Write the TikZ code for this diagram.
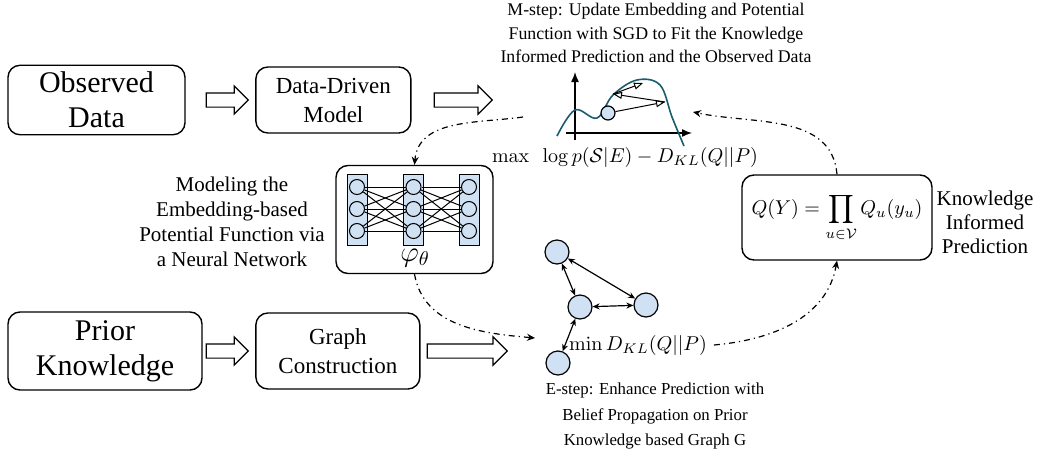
\documentclass[tikz,border=0pt]{standalone}
\usepackage[no-math]{fontspec}
\setmainfont{Liberation Serif}
\usetikzlibrary{positioning,shapes.arrows,arrows.meta}

\definecolor{cellblue}{RGB}{207,225,242}
\definecolor{curveteal}{RGB}{26,92,110}

\tikzset{
  box/.style={draw, line width=0.7pt, rounded corners=6pt, align=center},
  bigbox/.style={box, font=\fontsize{15}{17.5}\selectfont},
  midbox/.style={box, font=\fontsize{11.5}{14.5}\selectfont},
  blockarrow/.style={draw, line width=0.6pt, single arrow, single arrow head extend=3.5pt,
    single arrow head indent=0pt, inner xsep=0pt, inner ysep=3.25pt},
  note/.style={align=center, font=\fontsize{10.5}{12}\selectfont},
  layer/.style={draw, fill=cellblue, line width=0.5pt},
  neuron/.style={circle, draw, fill=cellblue, line width=0.5pt, minimum size=7.5pt, inner sep=0pt},
  gnode/.style={circle, draw, fill=cellblue, line width=0.6pt, minimum size=12pt, inner sep=0pt},
  gedge/.style={{Stealth[length=3.5pt,width=3pt]}-{Stealth[length=3.5pt,width=3pt]}, line width=0.6pt},
  flow/.style={line width=0.6pt, dash pattern=on 3pt off 2pt on 0.6pt off 2pt,
    -{Stealth[length=4pt,width=3.5pt]}},
  climb/.style={line width=0.5pt, -{Triangle[open,length=4.5pt,width=3.5pt]}},
}

\begin{document}
\begin{tikzpicture}[x=0.5pt, y=-0.5pt]
\useasboundingbox (0,0) rectangle (1041,456);

% input chains
\node[bigbox, minimum width=88.5pt, minimum height=33pt] (obs) at (96.5,100) {Observed\\Data};
\node[blockarrow, minimum height=21pt, right=10pt of obs] (a1) {};
\node[midbox, minimum width=77.5pt, minimum height=33pt, right=3pt of a1] (ddm) {Data-Driven\\Model};
\node[blockarrow, minimum height=29pt, right=11pt of ddm] (a2) {};

\node[bigbox, minimum width=97pt, minimum height=39pt] (prior) at (105,351) {Prior\\Knowledge};
\node[blockarrow, minimum height=21pt, right=1.5pt of prior] (a3) {};
\node[midbox, minimum width=82pt, minimum height=38pt, right=3pt of a3] (gc) {Graph\\Construction};
\node[blockarrow, minimum height=40pt, right=3pt of gc] (a4) {};

% M-step
\node[note, font=\fontsize{8.9}{11.6}\selectfont] (mstep) at (656,33)
  {M-step: Update Embedding and Potential\\Function with SGD to Fit the Knowledge\\Informed Prediction and the Observed Data};
\draw[line width=0.7pt, -{Latex[length=5pt,width=4pt]}] (575,140) -- (575,72);
\draw[line width=0.7pt, -{Latex[length=5pt,width=4pt]}] (566,133) -- (692,133);
\draw[curveteal, line width=0.8pt] plot[smooth, tension=0.6] coordinates
  {(557,136) (575,110) (597,118) (613,95) (637,80) (660,85) (672,117) (684,146)};
\node[gnode, minimum size=7pt] (ball) at (608,113) {};
\coordinate (p1) at (665,102);
\coordinate (p2) at (613,94);
\coordinate (p3) at (643,83);
\draw[climb] (ball) -- (p1);
\draw[climb] (p1) -- (p2);
\draw[climb] (p2) -- (p3);
\node (maxf) at (625,157) {$\max\ \ \log p(\mathcal{S}|E)-D_{KL}(Q||P)$};

% potential function network
\node[box, minimum width=78.5pt, minimum height=54pt] (nn) at (414.5,219.5) {};
\foreach \c/\x in {1/357,2/413.5,3/469}{
  \draw[layer] (\x-10,174) rectangle (\x+10,245);
  \foreach \r/\y in {1/187,2/209,3/231}
    \node[neuron] (n\c\r) at (\x,\y) {};
}
\foreach \c/\d in {1/2,2/3}
  \foreach \r in {1,2,3}
    \foreach \s in {1,2,3}
      \draw[line width=0.5pt] (n\c\r) -- (n\d\s);
\node[font=\Large] (phi) at (415,258) {$\varphi_\theta$};
\node[note, font=\fontsize{10.5}{12.5}\selectfont] (nnnote) at (232,222)
  {Modeling the\\Embedding-based\\Potential Function via\\a Neural Network};

% E-step graph
\node[gnode] (g1) at (557,252) {};
\node[gnode] (g2) at (580,307) {};
\node[gnode] (g3) at (646,305) {};
\node[gnode] (g4) at (558,363) {};
\draw[gedge] (g1) -- (g2);
\draw[gedge] (g1) -- (g3);
\draw[gedge] (g2) -- (g3);
\draw[gedge] (g2) -- (g4);
\node (minf) at (638,345) {$\min D_{KL}(Q||P)$};
\node[note, font=\fontsize{8.4}{12.8}\selectfont] (estep) at (655,416)
  {E-step: Enhance Prediction with\\Belief Propagation on Prior\\Knowledge based Graph G};

% knowledge informed prediction
\node[box, minimum width=95pt, minimum height=42.5pt] (qbox) at (837,217.5)
  {$\displaystyle Q(Y)=\prod_{u\in\mathcal{V}}Q_u(y_u)$};
\node[note] (kip) at (985,222) {Knowledge\\Informed\\Prediction};

% EM loop
\coordinate (mout) at (523,117);
\coordinate (gin) at (535,338);
\coordinate (min) at (693,112);
\draw[flow] (mout) to[out=188, in=85] (nn.north);
\draw[flow] (nn.south) to[out=-80, in=175] (gin);
\draw[flow] (minf.east) to[out=5, in=-100] (qbox.south);
\draw[flow] (qbox.north) to[out=95, in=-12] (min);
\end{tikzpicture}
\end{document}
